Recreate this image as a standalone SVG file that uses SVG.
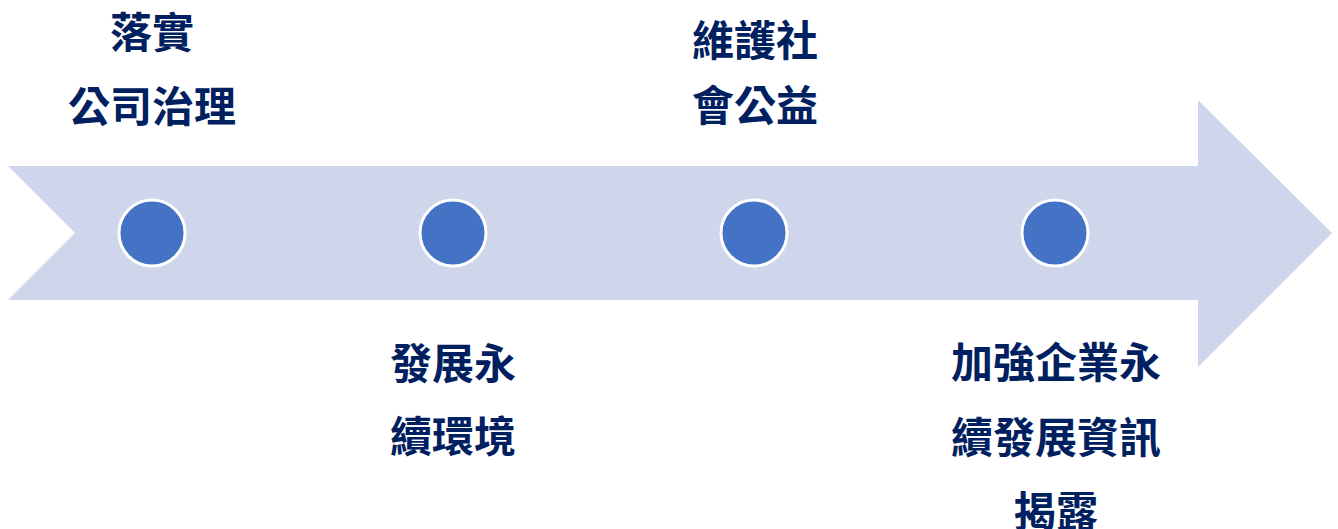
<svg xmlns="http://www.w3.org/2000/svg" width="1338" height="529" viewBox="0 0 1338 529">
<style>
.t{font-family:"Noto Sans CJK TC","Noto Sans CJK SC",sans-serif;font-weight:bold;font-size:42px;fill:#002060;text-anchor:middle}
.dot{fill:#4472C4;stroke:#FFFFFF;stroke-width:3}
</style>
<rect width="1338" height="529" fill="#FFFFFF"/>
<g id="connectors">
<polygon id="arrow" points="8,166 1198,166 1198,100 1332,233 1198,367 1198,300 8,300 75,233" fill="#CFD5EA"/>
</g>
<g id="node1"><circle class="dot" cx="152" cy="233" r="33"/><text class="t" x="152" y="48">落實</text><text class="t" x="152" y="122">公司治理</text></g>
<g id="node2"><circle class="dot" cx="453" cy="233" r="33"/><text class="t" x="453" y="379">發展永</text><text class="t" x="453" y="452">續環境</text></g>
<g id="node3"><circle class="dot" cx="754" cy="233" r="33"/><text class="t" x="755" y="56">維護社</text><text class="t" x="755" y="121">會公益</text></g>
<g id="node4"><circle class="dot" cx="1055" cy="233" r="33"/><text class="t" x="1056" y="378">加強企業永</text><text class="t" x="1056" y="453">續發展資訊</text><text class="t" x="1056" y="527">揭露</text></g>
</svg>
